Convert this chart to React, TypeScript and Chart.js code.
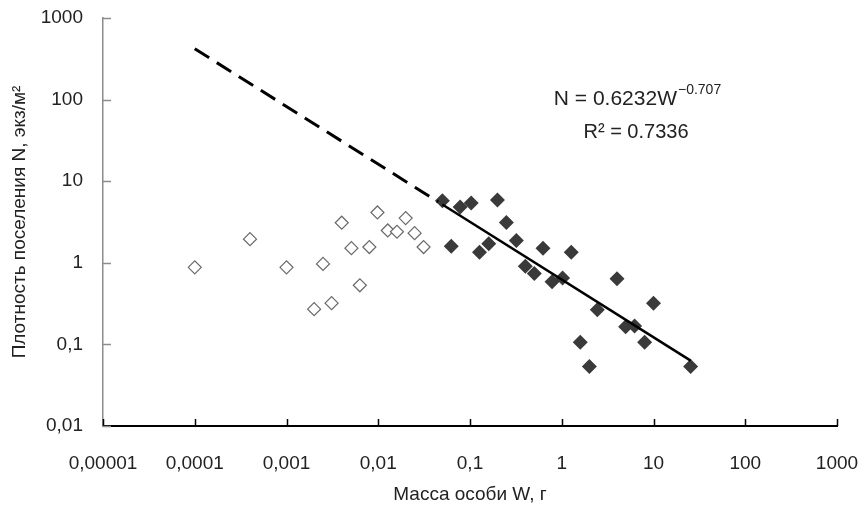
import React, { useEffect, useRef } from "react";
import { Chart, registerables } from "chart.js";

Chart.register(...registerables);

// Open diamonds: mass W (g), density N (ind/m2)
const openW = [0.0001, 0.0004, 0.001, 0.0025, 0.002, 0.0031, 0.004, 0.0051, 0.0063, 0.008, 0.0098, 0.0127, 0.016, 0.0199, 0.0249, 0.0312];
const openN = [0.88, 1.95, 0.88, 0.97, 0.27, 0.32, 3.1, 1.51, 0.53, 1.56, 4.14, 2.49, 2.4, 3.53, 2.31, 1.56];

// Filled diamonds
const filledW = [0.05, 0.0625, 0.078, 0.103, 0.127, 0.16, 0.199, 0.249, 0.32, 0.401, 0.502, 0.625, 0.784, 1.02, 1.27, 1.59, 2.0, 2.44, 4.0, 4.97, 6.22, 8.0, 10.0, 25.4];
const filledN = [5.77, 1.6, 4.82, 5.4, 1.35, 1.71, 5.88, 3.12, 1.88, 0.91, 0.74, 1.51, 0.585, 0.649, 1.35, 0.106, 0.0535, 0.265, 0.637, 0.164, 0.168, 0.106, 0.32, 0.0535];

// Power trend N = a * W^b
const TREND_A = 0.6232;
const TREND_B = -0.707;
const trendDashedW = [0.0001, 0.045];
const trendSolidW = [0.05, 25.4];

const xTickValues = [0.00001, 0.0001, 0.001, 0.01, 0.1, 1, 10, 100, 1000];
const yTickValues = [0.01, 0.1, 1, 10, 100, 1000];

const FONT = "'Liberation Sans', Arial, sans-serif";

const fmt = (v: number) => String(v).replace(".", ",");

const pts = (xs: number[], ys: number[]) => xs.map((x, i) => ({ x, y: ys[i] }));
const trendPts = (xs: number[]) => xs.map((x) => ({ x, y: TREND_A * Math.pow(x, TREND_B) }));

const innerTicks = {
  id: "innerTicks",
  afterDraw(chart: any) {
    const { ctx, scales } = chart;
    const xs = scales.x;
    const ys = scales.y;
    ctx.save();
    ctx.strokeStyle = "#000";
    ctx.lineWidth = 1.5;
    xTickValues.forEach((v) => {
      const px = Math.round(xs.getPixelForValue(v)) + 0.5;
      ctx.beginPath();
      ctx.moveTo(px, ys.bottom);
      ctx.lineTo(px, ys.bottom - 7);
      ctx.stroke();
    });
    ctx.strokeStyle = "#8c8c8c";
    yTickValues.forEach((v) => {
      const py = Math.round(ys.getPixelForValue(v)) + 0.5;
      ctx.beginPath();
      ctx.moveTo(xs.left, py);
      ctx.lineTo(xs.left + 8, py);
      ctx.stroke();
    });
    // equation
    ctx.fillStyle = "#222";
    ctx.textBaseline = "alphabetic";
    ctx.textAlign = "left";
    ctx.font = `21px ${FONT}`;
    const main = "N = 0.6232W";
    const mw = ctx.measureText(main).width;
    ctx.font = `14px ${FONT}`;
    const sup = "\u22120.707";
    const sw = ctx.measureText(sup).width;
    const total = mw + sw;
    const cx = 637;
    const x0 = cx - total / 2;
    ctx.font = `21px ${FONT}`;
    ctx.fillText(main, x0, 105);
    ctx.font = `14px ${FONT}`;
    ctx.fillText(sup, x0 + mw + 1, 94);
    ctx.font = `20px ${FONT}`;
    ctx.textAlign = "center";
    ctx.fillText("R\u00b2 = 0.7336", 636, 138);
    ctx.restore();
  },
};

export default function App() {
  const ref = useRef<HTMLCanvasElement | null>(null);
  useEffect(() => {
    document.body.style.margin = "0";
    const canvas = ref.current!;
    const chart = new Chart(canvas, {
      type: "scatter",
      data: {
        datasets: [
          {
            label: "trend-dashed",
            data: trendPts(trendDashedW),
            showLine: true,
            pointRadius: 0,
            borderColor: "#000",
            borderWidth: 3,
            borderDash: [17, 9],
            order: 0,
          },
          {
            label: "trend",
            data: trendPts(trendSolidW),
            showLine: true,
            pointRadius: 0,
            borderColor: "#000",
            borderWidth: 2.5,
            order: 0,
          },
          {
            label: "open",
            data: pts(openW, openN),
            pointStyle: "rectRot",
            pointRadius: 6.5,
            borderWidth: 1.2,
            borderColor: "#6a6a6a",
            backgroundColor: "#ffffff",
            order: 1,
          },
          {
            label: "filled",
            data: pts(filledW, filledN),
            pointStyle: "rectRot",
            pointRadius: 7.5,
            borderWidth: 0,
            borderColor: "#3a3a3a",
            backgroundColor: "#3a3a3a",
            order: 1,
          },
        ],
      },
      options: {
        responsive: false,
        animation: false,
        layout: { padding: { left: 0, right: 28, top: 18, bottom: 0 } },
        plugins: { legend: { display: false }, tooltip: { enabled: false } },
        scales: {
          x: {
            type: "logarithmic",
            min: 0.00001,
            max: 1000,
            afterBuildTicks: (s: any) => {
              s.ticks = xTickValues.map((v) => ({ value: v }));
            },
            afterFit: (s: any) => {
              s.height = 86;
              s.paddingLeft = 0;
              s.paddingRight = 0;
            },
            grid: { display: false, drawTicks: false },
            border: { display: true, color: "#000", width: 2 },
            ticks: {
              autoSkip: false,
              maxRotation: 0,
              padding: 26,
              color: "#222",
              font: { family: FONT, size: 19 },
              callback: (v: any) => fmt(Number(v)),
            },
            title: {
              display: true,
              text: "Масса особи W, г",
              color: "#222",
              font: { family: FONT, size: 19 },
              padding: { top: 0, bottom: 6 },
            },
          },
          y: {
            type: "logarithmic",
            min: 0.01,
            max: 1000,
            afterBuildTicks: (s: any) => {
              s.ticks = yTickValues.map((v) => ({ value: v }));
            },
            afterFit: (s: any) => {
              s.width = 103;
              s.paddingTop = 0;
              s.paddingBottom = 0;
            },
            grid: { display: false, drawTicks: false },
            border: { display: true, color: "#8c8c8c", width: 1.5 },
            ticks: {
              autoSkip: false,
              padding: 20,
              color: "#222",
              font: { family: FONT, size: 19 },
              callback: (v: any) => fmt(Number(v)),
            },
            title: {
              display: true,
              text: "Плотность поселения N, экз/м²",
              color: "#222",
              font: { family: FONT, size: 19 },
              padding: { top: 8, bottom: 0 },
            },
          },
        },
      },
      plugins: [innerTicks],
    });
    return () => chart.destroy();
  }, []);
  return <canvas ref={ref} width={865} height={512} style={{ display: "block" }} />;
}
